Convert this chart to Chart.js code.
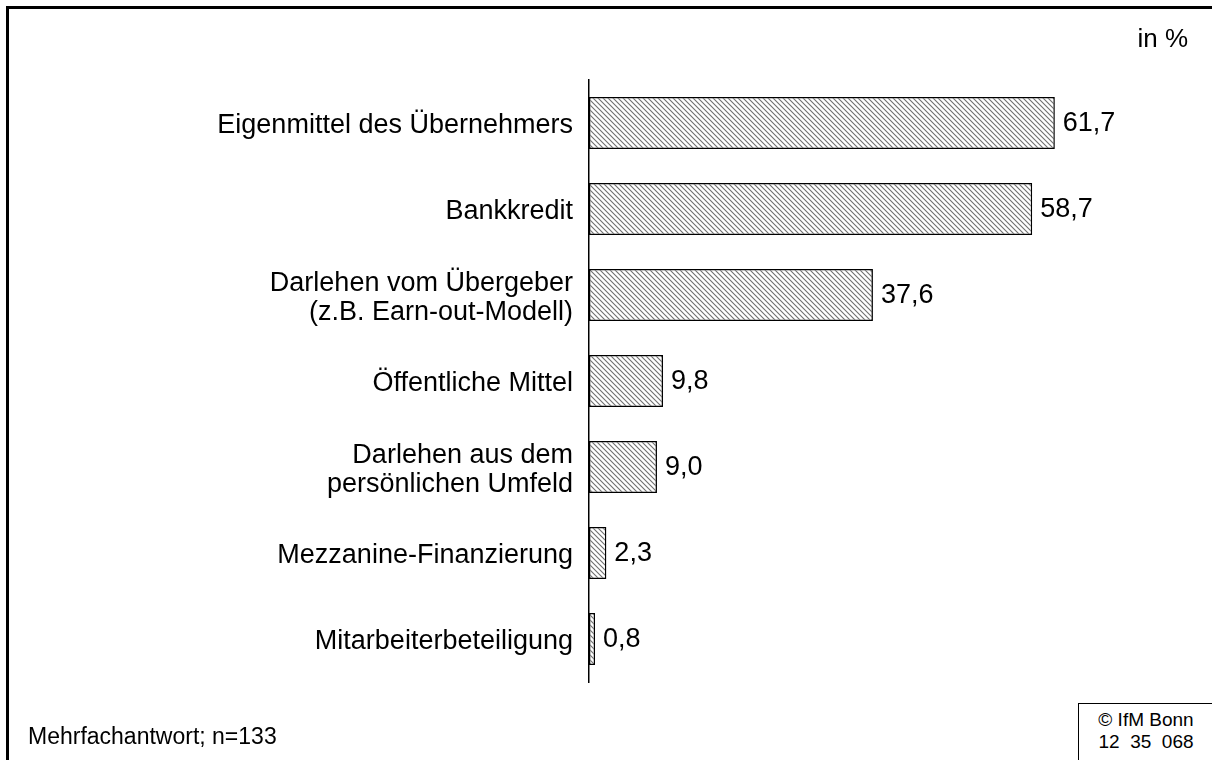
<!DOCTYPE html>
<html>
<head>
<meta charset="utf-8">
<script src="https://cdn.jsdelivr.net/npm/chart.js@4"></script>
<style>
  html, body { margin: 0; padding: 0; background: #fff; overflow: hidden; }
  #wrap { position: relative; width: 1212px; height: 760px; overflow: hidden; font-family: "Liberation Sans", Arial, sans-serif; color: #000; }
  #frame { position: absolute; left: 6px; top: 6px; width: 1300px; height: 900px; border-top: 3px solid #000; border-left: 3px solid #000; }
  #chart { position: absolute; left: 0; top: 0; }
  .note { position: absolute; white-space: nowrap; }
  #unit { right: 24px; top: 25px; font-size: 26px; line-height: 26px; }
  #foot { left: 28px; top: 725px; font-size: 23px; line-height: 23px; }
  #copy { left: 1078px; top: 703px; width: 140px; height: 80px; border: 1.5px solid #000; box-sizing: border-box; background: #fff; }
  #copy div { position: absolute; left: 0; width: 134px; top: 5px; font-size: 19px; line-height: 22px; text-align: center; }
</style>
</head>
<body>
<div id="wrap">
  <div id="frame"></div>
  <canvas id="chart" width="1212" height="760"></canvas>
  <div class="note" id="unit">in %</div>
  <div class="note" id="foot">Mehrfachantwort; n=133</div>
  <div class="note" id="copy"><div>© IfM Bonn<br>12&nbsp; 35&nbsp; 068</div></div>
</div>
<script>
const categories = [
  'Eigenmittel des Übernehmers',
  'Bankkredit',
  ['Darlehen vom Übergeber', '(z.B. Earn-out-Modell)'],
  'Öffentliche Mittel',
  ['Darlehen aus dem', 'persönlichen Umfeld'],
  'Mezzanine-Finanzierung',
  'Mitarbeiterbeteiligung'
];
const shares = [61.7, 58.7, 37.6, 9.8, 9.0, 2.3, 0.8];

// diagonal hatch like the original
function hatch() {
  const c = document.createElement('canvas');
  c.width = 5; c.height = 5;
  const g = c.getContext('2d');
  g.fillStyle = '#fff';
  g.fillRect(0, 0, 5, 5);
  g.strokeStyle = '#707070';
  g.lineWidth = 1.1;
  g.beginPath();
  g.moveTo(-1, -1); g.lineTo(6, 6);
  g.moveTo(-1, 4); g.lineTo(1, 6);
  g.moveTo(4, -1); g.lineTo(6, 1);
  g.stroke();
  return g.createPattern(c, 'repeat');
}

const valueLabels = {
  id: 'valueLabels',
  afterDatasetsDraw(chart) {
    const ctx = chart.ctx;
    const meta = chart.getDatasetMeta(0);
    ctx.save();
    ctx.font = '27px "Liberation Sans", Arial, sans-serif';
    ctx.fillStyle = '#000';
    ctx.textBaseline = 'middle';
    meta.data.forEach((bar, i) => {
      ctx.fillText(shares[i].toFixed(1).replace('.', ','), bar.x + 8, bar.y + 1);
    });
    ctx.restore();
  }
};

const ctx = document.getElementById('chart').getContext('2d');
new Chart(ctx, {
  type: 'bar',
  data: {
    labels: categories,
    datasets: [{
      data: shares,
      backgroundColor: hatch(),
      borderColor: '#000',
      borderWidth: 1.5,
      borderSkipped: false,
      categoryPercentage: 1,
      barPercentage: 0.605
    }]
  },
  options: {
    indexAxis: 'y',
    responsive: false,
    animation: false,
    layout: { padding: { top: 80, bottom: 78, left: 0, right: 19 } },
    plugins: { legend: { display: false }, tooltip: { enabled: false } },
    scales: {
      x: { display: false, min: 0, max: 80 },
      y: {
        afterFit(scale) { scale.width = 589; },
        grid: { display: false },
        border: { display: true, color: '#000', width: 1.5 },
        ticks: {
          color: '#000',
          padding: 8,
          labelOffset: 3,
          font: { family: '"Liberation Sans", Arial, sans-serif', size: 27, lineHeight: 1.05 }
        }
      }
    }
  },
  plugins: [valueLabels]
});
</script>
</body>
</html>
